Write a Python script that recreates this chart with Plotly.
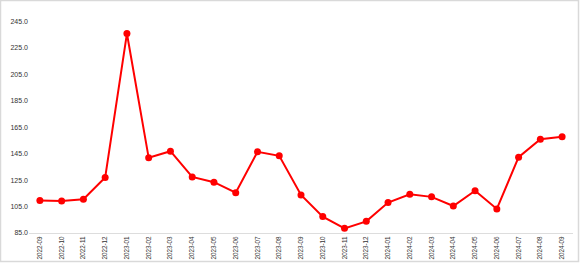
import plotly.graph_objects as go

months = ["2022-09","2022-10","2022-11","2022-12","2023-01","2023-02","2023-03","2023-04",
          "2023-05","2023-06","2023-07","2023-08","2023-09","2023-10","2023-11","2023-12",
          "2024-01","2024-02","2024-03","2024-04","2024-05","2024-06","2024-07","2024-08","2024-09"]
values = [109.5, 109.2, 110.5, 126.9, 235.7, 141.8, 146.8, 127.4,
          123.4, 115.5, 146.3, 143.3, 113.8, 97.4, 88.5, 93.8,
          108.0, 114.3, 112.3, 105.4, 117.0, 103.2, 142.3, 155.9, 157.7]

W, H = 580, 263
ml, mr, mt, mb = 29, 7, 8, 30

fig = go.Figure()
fig.add_trace(go.Scatter(
    x=months, y=values, mode="lines+markers",
    line=dict(color="#ff0000", width=2),
    marker=dict(color="#ff0000", size=7),
    hoverinfo="x+y",
))

fig.update_layout(
    width=W, height=H,
    margin=dict(l=ml, r=mr, t=mt, b=mb, autoexpand=False),
    paper_bgcolor="white", plot_bgcolor="white",
    showlegend=False,
    font=dict(family="Liberation Sans, Arial, sans-serif", color="#444444"),
    xaxis=dict(
        type="category", range=[-0.5, len(months) - 0.5],
        tickangle=-90, tickfont=dict(size=6.3, color="#333333"),
        showgrid=False, showline=True, linecolor="#dddddd", linewidth=1,
        ticks="", zeroline=False, automargin=False,
    ),
    yaxis=dict(
        range=[85, 255], tick0=85, dtick=20, tickformat=".1f",
        tickfont=dict(size=7, color="#333333"),
        showgrid=False, showline=False, zeroline=False, ticks="", automargin=False,
    ),
    shapes=[dict(
        type="rect", xref="paper", yref="paper",
        x0=-(ml - 0.5) / (W - ml - mr), x1=1 + (mr - 1.5) / (W - ml - mr),
        y0=-(mb - 1.5) / (H - mt - mb), y1=1 + (mt - 0.5) / (H - mt - mb),
        line=dict(color="#d9d9d9", width=1.5), fillcolor="rgba(0,0,0,0)", layer="below",
    )],
)

fig.write_html("out.html")
